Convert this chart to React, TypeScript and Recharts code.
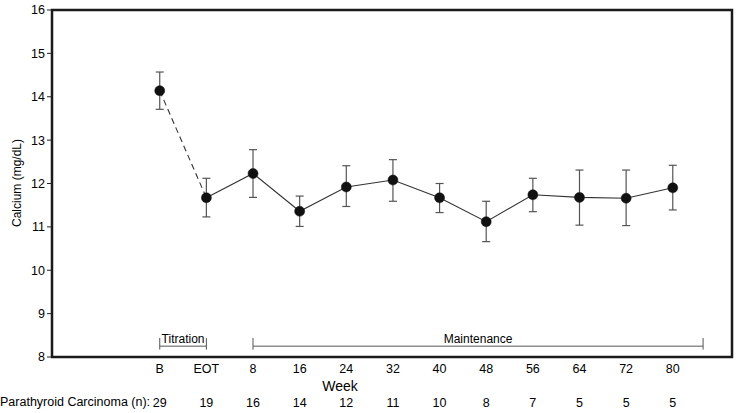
import React from 'react';
import {
  ComposedChart, Line, XAxis, YAxis, ErrorBar, ReferenceArea, ReferenceLine, ReferenceDot, Customized,
} from 'recharts';

const categories = ['B', 'EOT', '8', '16', '24', '32', '40', '48', '56', '64', '72', '80'];
const means = [14.14, 11.67, 12.23, 11.36, 11.92, 12.08, 11.67, 11.12, 11.74, 11.68, 11.66, 11.9];
const lower = [13.71, 11.23, 11.68, 11.01, 11.47, 11.59, 11.33, 10.66, 11.35, 11.04, 11.03, 11.39];
const upper = [14.57, 12.12, 12.78, 11.71, 12.41, 12.55, 12.0, 11.59, 12.12, 12.31, 12.31, 12.42];
const nValues = [29, 19, 16, 14, 12, 11, 10, 8, 7, 5, 5, 5];
const yTicks = [8, 9, 10, 11, 12, 13, 14, 15, 16];
const titrationEnd = 1;
const maintenanceStart = 2;
const maintenanceEnd = 11.65;

const data = categories.map((c, i) => ({
  x: i,
  cat: c,
  mean: means[i],
  err: [means[i] - lower[i], upper[i] - means[i]],
  titr: i <= titrationEnd ? means[i] : null,
  maint: i >= titrationEnd ? means[i] : null,
}));

const FONT = '"Liberation Sans", Arial, Helvetica, sans-serif';
const X_DOMAIN: [number, number] = [-2.31, 12.27];
const TXT = '#000';

const XTick = (props: any) => {
  const { x, y, payload } = props;
  const i = payload.value as number;
  return (
    <g>
      <text x={x} y={y + 16} textAnchor="middle" fontSize={12.5} fill={TXT} fontFamily={FONT}>
        {categories[i]}
      </text>
      <text x={x} y={y + 49.5} textAnchor="middle" fontSize={12.5} fill={TXT} fontFamily={FONT}>
        {nValues[i]}
      </text>
    </g>
  );
};

const Extras = () => (
  <g fontFamily={FONT} fill={TXT}>
    <text x={0} y={406} fontSize={12.5}>Parathyroid Carcinoma (n):</text>
    <text x={340} y={391} fontSize={14} textAnchor="middle">Week</text>
    <text x={17} y={183} fontSize={12} textAnchor="middle" dominantBaseline="central" transform="rotate(-90 17 183)">
      Calcium (mg/dL)
    </text>
  </g>
);

const bracketY = 8.25;
const bracketTop = 8.44;
const bracketBot = 8.17;
const bStroke = '#555';

export default function App() {
  return (
    <div style={{ position: 'absolute', left: 0, top: 0, background: '#fff' }}>
      <ComposedChart
        width={736}
        height={413}
        data={data}
        margin={{ top: 10, right: 4, bottom: 0, left: 0 }}
        style={{ fontFamily: FONT }}
      >
        <XAxis
          type="number"
          dataKey="x"
          domain={X_DOMAIN}
          ticks={categories.map((_, i) => i)}
          axisLine={false}
          tickLine={false}
          tickSize={0}
          tickMargin={0}
          height={56}
          tick={<XTick />}
          interval={0}
        />
        <YAxis
          type="number"
          domain={[8, 16]}
          ticks={yTicks}
          width={52}
          axisLine={false}
          tickLine={{ stroke: '#222' }}
          tickSize={5}
          tickMargin={2}
          tick={{ fontSize: 12.5, fill: TXT, fontFamily: FONT }}
          interval={0}
        />
        <ReferenceArea
          x1={X_DOMAIN[0]}
          x2={X_DOMAIN[1]}
          y1={8}
          y2={16}
          fill="none"
          fillOpacity={0}
          stroke="#1a1a1a"
          strokeWidth={2.5}
          strokeOpacity={1}
        />
        <ReferenceLine segment={[{ x: 0, y: bracketY }, { x: titrationEnd, y: bracketY }]} stroke={bStroke} />
        <ReferenceLine segment={[{ x: 0, y: bracketBot }, { x: 0, y: bracketTop }]} stroke={bStroke} />
        <ReferenceLine segment={[{ x: titrationEnd, y: bracketBot }, { x: titrationEnd, y: bracketTop }]} stroke={bStroke} />
        <ReferenceLine segment={[{ x: maintenanceStart, y: bracketY }, { x: maintenanceEnd, y: bracketY }]} stroke={bStroke} />
        <ReferenceLine segment={[{ x: maintenanceStart, y: bracketBot }, { x: maintenanceStart, y: bracketTop }]} stroke={bStroke} />
        <ReferenceLine segment={[{ x: maintenanceEnd, y: bracketBot }, { x: maintenanceEnd, y: bracketTop }]} stroke={bStroke} />
        <ReferenceDot
          x={(0 + titrationEnd) / 2}
          y={8.43}
          r={0}
          stroke="none"
          fill="none"
          label={{ value: 'Titration', position: 'center', fontSize: 12, fill: TXT, fontFamily: FONT }}
        />
        <ReferenceDot
          x={(maintenanceStart + maintenanceEnd) / 2}
          y={8.43}
          r={0}
          stroke="none"
          fill="none"
          label={{ value: 'Maintenance', position: 'center', fontSize: 12, fill: TXT, fontFamily: FONT }}
        />
        <Line
          dataKey="titr"
          stroke="#333"
          strokeWidth={1.1}
          strokeDasharray="6 4"
          dot={false}
          activeDot={false}
          isAnimationActive={false}
        />
        <Line
          dataKey="maint"
          stroke="#333"
          strokeWidth={1.1}
          dot={false}
          activeDot={false}
          isAnimationActive={false}
        />
        <Line
          dataKey="mean"
          stroke="none"
          dot={{ r: 5, fill: '#111', stroke: '#111', strokeWidth: 0.5 }}
          activeDot={false}
          isAnimationActive={false}
        >
          <ErrorBar dataKey="err" width={4} stroke="#555" strokeWidth={1.2} direction="y" />
        </Line>
        <Customized component={Extras} />
      </ComposedChart>
    </div>
  );
}
